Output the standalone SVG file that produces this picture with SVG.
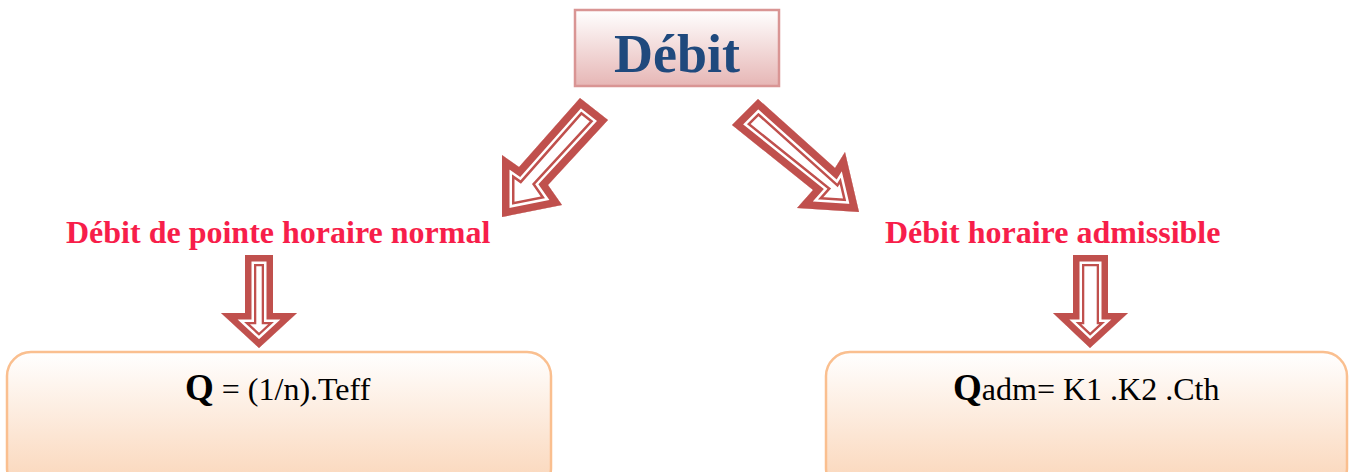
<svg xmlns="http://www.w3.org/2000/svg" xmlns:xlink="http://www.w3.org/1999/xlink" width="1352" height="472" viewBox="0 0 1352 472">
<style>
.lbl{font-family:"Liberation Serif","Times New Roman",serif;font-weight:bold;font-size:32px;fill:#f71e4a}
.frm{font-family:"Liberation Serif","Times New Roman",serif;font-size:32px;fill:#000}
.q{font-weight:bold;font-size:37px}
.bx{stroke:#fabf8f;stroke-width:2.5;fill:url(#gb)}
.aw{fill:#fff;stroke:none}
.r1{fill:none;stroke:#c0504d;stroke-linejoin:miter;stroke-miterlimit:10}
.w1{fill:none;stroke:#fff;stroke-linejoin:miter;stroke-miterlimit:10}
</style>
<defs>
<linearGradient id="gt" x1="0" y1="0" x2="0" y2="1"><stop offset="0" stop-color="#ffffff"/><stop offset="1" stop-color="#e6b6b5"/></linearGradient>
<linearGradient id="gb" x1="0" y1="0" x2="0" y2="1"><stop offset="0" stop-color="#ffffff"/><stop offset="1" stop-color="#fad4b6"/></linearGradient>
<path id="pA" d="M580,98 L608,120 L548,185 L562,205 L502,217 L502,155 L519,167 Z"/>
<path id="pB" d="M758,99 L835,168 L845,152 L859,212 L797,208 L813,190 L732,125 Z"/>
<path id="pC" d="M245,255 H273 V313 H297 L259,348 L221,313 H245 Z"/>
<path id="pD" d="M1073,255 H1108 V313 H1128 L1090,348 L1053,313 H1073 Z"/>
<clipPath id="cA"><use xlink:href="#pA"/></clipPath>
<clipPath id="cB"><use xlink:href="#pB"/></clipPath>
<clipPath id="cC"><use xlink:href="#pC"/></clipPath>
<clipPath id="cD"><use xlink:href="#pD"/></clipPath>
</defs>
<rect width="1352" height="472" fill="#fff"/>

<g id="debit">
<rect x="575" y="10" width="204" height="76" fill="url(#gt)" stroke="#d99594" stroke-width="2.5"/>
<text x="677" y="72" text-anchor="middle" font-family="'Liberation Serif','Times New Roman',serif" font-weight="bold" font-size="54" fill="#1f497d">Débit</text>
</g>

<g id="connectors">
<g clip-path="url(#cA)">
<use xlink:href="#pA" class="aw"/>
<use xlink:href="#pA" class="r1" stroke-width="25"/>
<use xlink:href="#pA" class="w1" stroke-width="20"/>
<use xlink:href="#pA" class="r1" stroke-width="15"/>
</g>
<g clip-path="url(#cB)">
<use xlink:href="#pB" class="aw"/>
<use xlink:href="#pB" class="r1" stroke-width="25"/>
<use xlink:href="#pB" class="w1" stroke-width="20"/>
<use xlink:href="#pB" class="r1" stroke-width="15"/>
</g>
<g clip-path="url(#cC)">
<use xlink:href="#pC" class="aw"/>
<use xlink:href="#pC" class="r1" stroke-width="22.6"/>
<use xlink:href="#pC" class="w1" stroke-width="18"/>
<use xlink:href="#pC" class="r1" stroke-width="13"/>
</g>
<g clip-path="url(#cD)">
<use xlink:href="#pD" class="aw"/>
<use xlink:href="#pD" class="r1" stroke-width="22.6"/>
<use xlink:href="#pD" class="w1" stroke-width="18"/>
<use xlink:href="#pD" class="r1" stroke-width="13"/>
</g>
</g>

<g id="label-left"><text class="lbl" x="66" y="243">Débit de pointe horaire normal</text></g>
<g id="label-right"><text class="lbl" x="885" y="243">Débit horaire admissible</text></g>

<g id="box-left">
<rect class="bx" x="7" y="352" width="544" height="140" rx="24"/>
<text class="frm" x="185" y="400"><tspan class="q">Q</tspan> = (1/n).Teff</text>
</g>
<g id="box-right">
<rect class="bx" x="826" y="352" width="521" height="140" rx="24"/>
<text class="frm" x="953" y="400"><tspan class="q">Q</tspan>adm= K1 .K2 .Cth</text>
</g>
</svg>
